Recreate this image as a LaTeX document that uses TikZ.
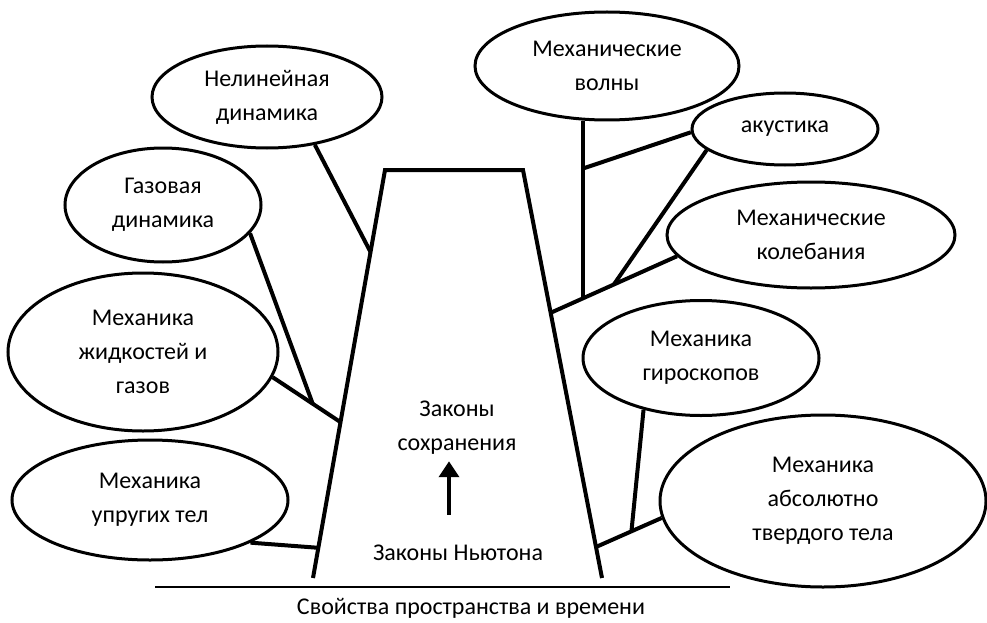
\documentclass[tikz,border=0pt]{standalone}
\usepackage{fontspec}
\setmainfont{Carlito}
\usetikzlibrary{shapes.geometric,arrows.meta,calc}
\tikzset{
  bubble/.style={draw,ellipse,line width=3pt,inner sep=0pt,align=center,
    font=\fontsize{24}{34}\selectfont},
  branch/.style={line width=4pt},
  txt/.style={align=center,font=\fontsize{24}{34}\selectfont}
}
\begin{document}
\begin{tikzpicture}[x=1pt,y=-1pt]
  \useasboundingbox (0,0) rectangle (987,623);
  % trunk
  \coordinate (bl) at (313,578);
  \coordinate (tl) at (385,170);
  \coordinate (tr) at (523,170);
  \coordinate (br) at (602,578);
  \draw[branch] (bl) -- (tl) -- (tr) -- (br);
  \coordinate (t1) at ($(bl)!0.799!(tl)$);
  \coordinate (t2) at ($(bl)!0.382!(tl)$);
  \coordinate (t3) at ($(bl)!0.074!(tl)$);
  \coordinate (t5) at ($(br)!0.65!(tr)$);
  \coordinate (t6) at ($(br)!0.076!(tr)$);
  % left bubbles
  \node[bubble,minimum width=230pt,minimum height=102pt] (nl) at (267,97) {Нелинейная\\динамика};
  \node[bubble,minimum width=196pt,minimum height=114pt] (gaz) at (163,205) {Газовая\\динамика};
  \node[bubble,minimum width=270pt,minimum height=158pt] (zhid) at (143,352) {Механика\\жидкостей и\\газов};
  \node[bubble,minimum width=276pt,minimum height=120pt] (upr) at (150,500) {Механика\\упругих тел};
  % right bubbles
  \node[bubble,minimum width=264pt,minimum height=108pt] (volny) at (607,66) {Механические\\волны};
  \node[bubble,minimum width=186pt,minimum height=72pt] (aku) at (785,129) {акустика};
  \node[bubble,minimum width=288pt,minimum height=106pt] (kol) at (811,235) {Механические\\колебания};
  \node[bubble,minimum width=236pt,minimum height=115pt] (giro) at (701,358) {Механика\\гироскопов};
  \node[bubble,minimum width=326pt,minimum height=172pt] (tverd) at (823,501) {Механика\\абсолютно\\твердого тела};
  % left branches
  \draw[branch] (nl.-45) -- (t1);
  \draw[branch] (zhid.-11) -- (t2);
  \coordinate (j1) at ($(zhid.-11)!0.59!(t2)$);
  \draw[branch] (gaz.-18) -- (j1);
  \draw[branch] (upr.-23) -- (t3);
  % right branches
  \draw[branch] (kol.189) -- (t5);
  \coordinate (j2) at ($(t5)!0.252!(kol.189)$);
  \draw[branch] (volny.-114) -- (volny.-114 |- j2);
  \coordinate (j3) at ($(volny.-114)!0.27!(volny.-114 |- j2)$);
  \draw[branch] (aku.182) -- (j3);
  \coordinate (j4) at ($(t5)!0.5!(kol.189)$);
  \draw[branch] (aku.195) -- (j4);
  \draw[branch] (tverd.186) -- (t6);
  \coordinate (j5) at ($(t6)!0.54!(tverd.186)$);
  \draw[branch] (giro.222) -- (j5);
  % laws
  \node[txt] (zs) at (457,428) {Законы\\сохранения};
  \node[txt] (newton) at (458,553) {Законы Ньютона};
  \draw[line width=3.8pt,-{Triangle[length=16pt,width=20pt]},shorten <=27pt,shorten >=3pt]
    ([xshift=-9pt]newton.north) -- ([xshift=-9pt]newton.north |- zs.south);
  % ground
  \draw[line width=1.3pt] (155,587) -- (730,587);
  \node[txt] (base) at (471,608) {Свойства пространства и времени};
\end{tikzpicture}
\end{document}
